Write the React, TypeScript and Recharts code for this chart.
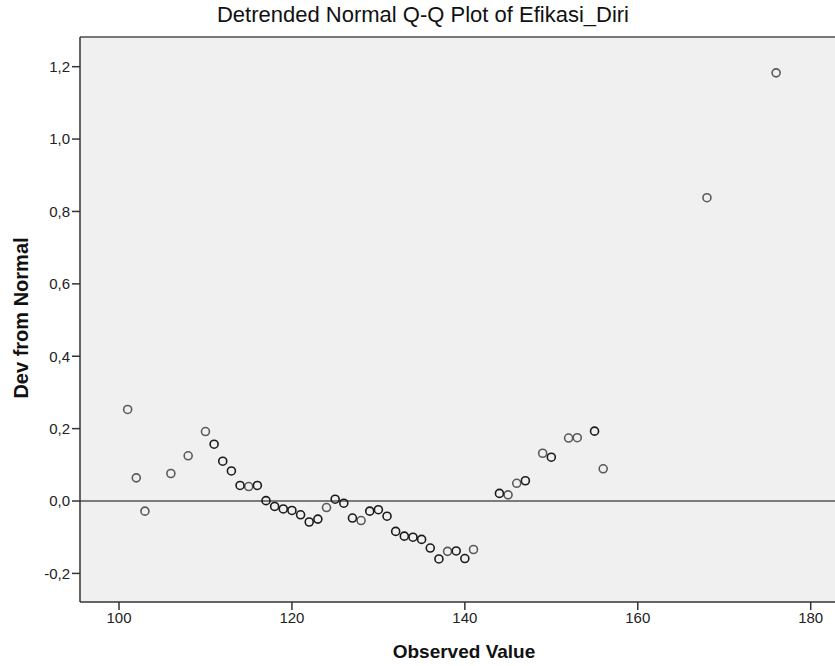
import React from "react";
import {
  ScatterChart,
  Scatter,
  XAxis,
  YAxis,
  CartesianGrid,
  ReferenceLine,
} from "recharts";

// observed values that occur once (lighter markers)
const singleObs = [101, 102, 103, 106, 108, 110, 115, 124, 128, 138, 141, 145, 146, 149, 152, 153, 156, 168, 176];
const singleDev = [0.253, 0.064, -0.028, 0.076, 0.125, 0.192, 0.04, -0.018, -0.054, -0.139, -0.134, 0.017, 0.049, 0.132, 0.174, 0.175, 0.089, 0.838, 1.183];

// observed values with several cases (markers overdrawn, darker)
const multiObs = [111, 112, 113, 114, 116, 117, 118, 119, 120, 121, 122, 123, 125, 126, 127, 129, 130, 131, 132, 133, 134, 135, 136, 137, 139, 140, 144, 147, 150, 155];
const multiDev = [0.157, 0.11, 0.083, 0.043, 0.043, 0.001, -0.015, -0.022, -0.026, -0.038, -0.058, -0.05, 0.005, -0.006, -0.047, -0.028, -0.024, -0.042, -0.084, -0.097, -0.1, -0.106, -0.13, -0.16, -0.138, -0.159, 0.021, 0.056, 0.121, 0.193];

const xTicks = [100, 120, 140, 160, 180];
const yTicks = [-0.2, 0, 0.2, 0.4, 0.6, 0.8, 1.0, 1.2];

const X_DOMAIN: [number, number] = [95.49, 182.81];
const Y_DOMAIN: [number, number] = [-0.279, 1.282];

const FONT = "Arial, 'Liberation Sans', sans-serif";

const singleData = singleObs.map((x, i) => ({ x, y: singleDev[i] }));
const multiData = multiObs.map((x, i) => ({ x, y: multiDev[i] }));

const ring = (color: string) => (p: any) =>
  <circle cx={p.cx} cy={p.cy} r={4} fill="none" stroke={color} strokeWidth={1.6} />;

const fmt = (v: number) => v.toFixed(1).replace(".", ",");

export default function App() {
  return (
    <div style={{ position: "absolute", left: 0, top: 0, width: 835, height: 666, background: "#fff", fontFamily: FONT }}>
      <div
        style={{
          position: "absolute",
          left: 423,
          top: 2,
          transform: "translateX(-50%)",
          whiteSpace: "nowrap",
          fontSize: 22,
          color: "#111",
        }}
      >
        Detrended Normal Q-Q Plot of Efikasi_Diri
      </div>
      <ScatterChart width={835} height={666} margin={{ top: 37, right: 0, bottom: 0, left: 0 }}>
        <CartesianGrid fill="#f0f0f0" horizontal={false} vertical={false} />
        <XAxis
          type="number"
          dataKey="x"
          domain={X_DOMAIN}
          ticks={xTicks}
          allowDataOverflow
          height={64}
          tickSize={8}
          stroke="#333"
          strokeWidth={1.5}
          tick={{ fill: "#222", fontSize: 15, fontFamily: FONT }}
        />
        <YAxis
          type="number"
          dataKey="y"
          domain={Y_DOMAIN}
          ticks={yTicks}
          allowDataOverflow
          width={80}
          tickSize={8}
          tickFormatter={fmt}
          stroke="#333"
          strokeWidth={1.5}
          tick={{ fill: "#222", fontSize: 15, fontFamily: FONT }}
        />
        <ReferenceLine y={Y_DOMAIN[1]} stroke="#777" strokeWidth={2} />
        <ReferenceLine y={0} stroke="#555" strokeWidth={1.6} />
        <Scatter data={singleData} shape={ring("#5a5a5a")} isAnimationActive={false} />
        <Scatter data={multiData} shape={ring("#1a1a1a")} isAnimationActive={false} />
      </ScatterChart>
      <div
        style={{
          position: "absolute",
          left: 464,
          top: 641,
          transform: "translateX(-50%)",
          whiteSpace: "nowrap",
          fontSize: 19,
          fontWeight: "bold",
          color: "#111",
        }}
      >
        Observed Value
      </div>
      <div
        style={{
          position: "absolute",
          left: 21,
          top: 318,
          transform: "translate(-50%, -50%) rotate(-90deg)",
          whiteSpace: "nowrap",
          fontSize: 20,
          fontWeight: "bold",
          color: "#111",
        }}
      >
        Dev from Normal
      </div>
    </div>
  );
}
